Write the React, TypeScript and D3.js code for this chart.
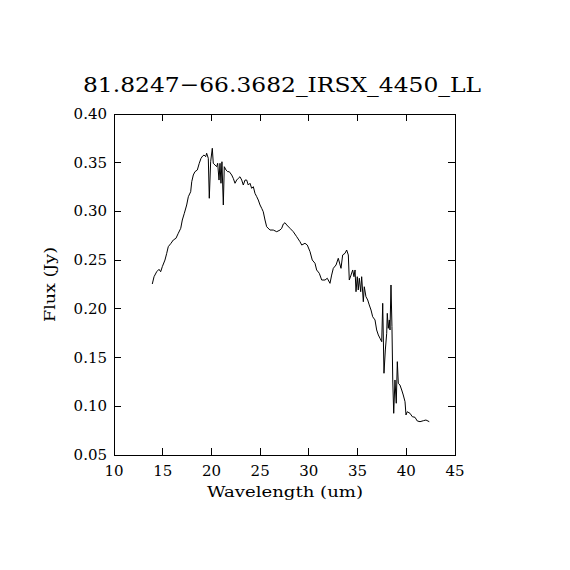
import React from "react";
import * as d3 from "d3";

const TITLE = "81.8247\u221266.3682_IRSX_4450_LL";
const X_LABEL = "Wavelength (um)";
const Y_LABEL = "Flux (Jy)";
const X_TICKS = [10, 15, 20, 25, 30, 35, 40, 45];
const Y_TICKS = [0.05, 0.1, 0.15, 0.2, 0.25, 0.3, 0.35, 0.4];

const wavelength = [
  13.93, 14.11, 14.38, 14.62, 14.79, 14.96, 15.23, 15.41, 15.57, 15.85,
  16.09, 16.36, 16.6, 16.85, 17.01, 17.22, 17.46, 17.63, 17.87, 17.98,
  18.14, 18.31, 18.55, 18.75, 18.93, 19.1, 19.24, 19.41, 19.51, 19.68,
  19.78, 19.92, 20.09, 20.19, 20.37, 20.54, 20.64, 20.78, 20.88, 20.98,
  21.08, 21.22, 21.32, 21.5, 21.67, 21.83, 22.08, 22.24, 22.42, 22.59,
  22.76, 22.93, 23.11, 23.27, 23.45, 23.62, 23.78, 23.96, 24.13, 24.3,
  24.47, 24.65, 24.81, 24.99, 25.16, 25.32, 25.5, 25.67, 26.01, 26.35,
  26.7, 27.04, 27.21, 27.38, 27.55, 27.73, 28.06, 28.4, 28.75, 29.09,
  29.27, 29.6, 29.84, 30.12, 30.35, 30.63, 30.8, 31.07, 31.32, 31.66,
  31.89, 32.17, 32.34, 32.51, 32.79, 33.02, 33.3, 33.47, 33.71, 33.88,
  34.05, 34.15, 34.33, 34.5, 34.63, 34.74, 34.84, 34.97, 35.07, 35.18,
  35.32, 35.42, 35.59, 35.69, 35.86, 36.04, 36.2, 36.38, 36.55, 36.79,
  36.96, 37.13, 37.3, 37.48, 37.58, 37.71, 37.85, 37.99, 38.05, 38.15,
  38.26, 38.33, 38.43, 38.53, 38.61, 38.71, 38.84, 38.97, 39.08, 39.18,
  39.35, 39.53, 39.69, 39.87, 39.97, 40.1, 40.38, 40.62, 40.89, 41.13,
  41.41, 41.75, 42.02, 42.36,
];

const flux = [
  0.2255, 0.233, 0.2381, 0.2406, 0.2381, 0.2433, 0.2501, 0.257, 0.2638, 0.2673,
  0.2707, 0.2724, 0.2776, 0.2827, 0.2912, 0.2981, 0.3066, 0.3151, 0.3202, 0.3305,
  0.3374, 0.3408, 0.3425, 0.3494, 0.3545, 0.3569, 0.3579, 0.3562, 0.3597, 0.3545,
  0.3135, 0.351, 0.3648, 0.3494, 0.3477, 0.3459, 0.3494, 0.3322, 0.3494, 0.3289,
  0.351, 0.3066, 0.3459, 0.3425, 0.3408, 0.3408, 0.3374, 0.334, 0.3289, 0.3322,
  0.334, 0.3356, 0.3322, 0.3271, 0.3322, 0.3322, 0.3271, 0.3289, 0.3237, 0.3254,
  0.3186, 0.3151, 0.3117, 0.3066, 0.3032, 0.2997, 0.2912, 0.2843, 0.2809, 0.2809,
  0.2792, 0.2809, 0.2827, 0.2871, 0.2884, 0.2861, 0.2827, 0.2792, 0.2741, 0.2689,
  0.2655, 0.2673, 0.2655, 0.2587, 0.2501, 0.2468, 0.2399, 0.2365, 0.2296, 0.2296,
  0.2314, 0.2262, 0.2347, 0.2416, 0.245, 0.2519, 0.2416, 0.2553, 0.257, 0.2604,
  0.2553, 0.2296, 0.2347, 0.2399, 0.233, 0.2399, 0.2176, 0.233, 0.2194, 0.2314,
  0.2176, 0.233, 0.2073, 0.2227, 0.2125, 0.2091, 0.204, 0.1988, 0.1919, 0.1886,
  0.1783, 0.1732, 0.1698, 0.1663, 0.2057, 0.1339, 0.1578, 0.1749, 0.1954, 0.18,
  0.1886, 0.1783, 0.2245, 0.1817, 0.127, 0.0928, 0.127, 0.1031, 0.1458, 0.1236,
  0.1218, 0.1167, 0.1116, 0.1047, 0.0911, 0.0944, 0.0928, 0.0893, 0.0887, 0.0849,
  0.0842, 0.0852, 0.0859, 0.0842,
];

const W = 570;
const H = 570;
const L = 114;
const R = 455;
const T = 114;
const B = 455;
const FONT = "'DejaVu Serif', serif";
const TICK = 7;

export default function App() {
  const x = d3.scaleLinear().domain([10, 45]).range([L, R]);
  const y = d3.scaleLinear().domain([0.05, 0.4]).range([B, T]);
  const pts: [number, number][] = wavelength.map((w, i) => [w, flux[i]]);
  const line = d3
    .line<[number, number]>()
    .x((d) => x(d[0]))
    .y((d) => y(d[1]));

  return (
    <svg
      width={W}
      height={H}
      style={{ position: "absolute", left: 0, top: 0, background: "#fff" }}
    >
      <rect x={0} y={0} width={W} height={H} fill="#fff" />
      <text
        x={282}
        y={92}
        textAnchor="middle"
        fontFamily={FONT}
        fontSize={21}
        textLength={398}
        lengthAdjust="spacingAndGlyphs"
        fill="#000"
      >
        {TITLE}
      </text>
      <g shapeRendering="crispEdges" stroke="#000" strokeWidth={1}>
        <rect x={L} y={T} width={R - L} height={B - T} fill="none" />
        {X_TICKS.slice(1, -1).map((t) => (
          <g key={"xt" + t}>
            <line x1={x(t)} x2={x(t)} y1={B} y2={B - TICK} />
            <line x1={x(t)} x2={x(t)} y1={T} y2={T + TICK} />
          </g>
        ))}
        {Y_TICKS.slice(1, -1).map((t) => (
          <g key={"yt" + t}>
            <line x1={L} x2={L + TICK} y1={y(t)} y2={y(t)} />
            <line x1={R} x2={R - TICK} y1={y(t)} y2={y(t)} />
          </g>
        ))}
      </g>
      {X_TICKS.map((t) => (
        <text
          key={"xl" + t}
          x={x(t)}
          y={476}
          textAnchor="middle"
          fontFamily={FONT}
          fontSize={15}
          fill="#000"
        >
          {t}
        </text>
      ))}
      {Y_TICKS.map((t) => (
        <text
          key={"yl" + t}
          x={107}
          y={y(t) + 5}
          textAnchor="end"
          fontFamily={FONT}
          fontSize={15}
          fill="#000"
        >
          {t.toFixed(2)}
        </text>
      ))}
      <text
        x={285}
        y={497}
        textAnchor="middle"
        fontFamily={FONT}
        fontSize={15}
        textLength={156}
        lengthAdjust="spacingAndGlyphs"
        fill="#000"
      >
        {X_LABEL}
      </text>
      <text
        transform={`translate(55,${(T + B) / 2}) rotate(-90)`}
        textAnchor="middle"
        fontFamily={FONT}
        fontSize={15}
        textLength={75}
        lengthAdjust="spacingAndGlyphs"
        fill="#000"
      >
        {Y_LABEL}
      </text>
      <path d={line(pts) ?? ""} fill="none" stroke="#000" strokeWidth={1} />
    </svg>
  );
}
